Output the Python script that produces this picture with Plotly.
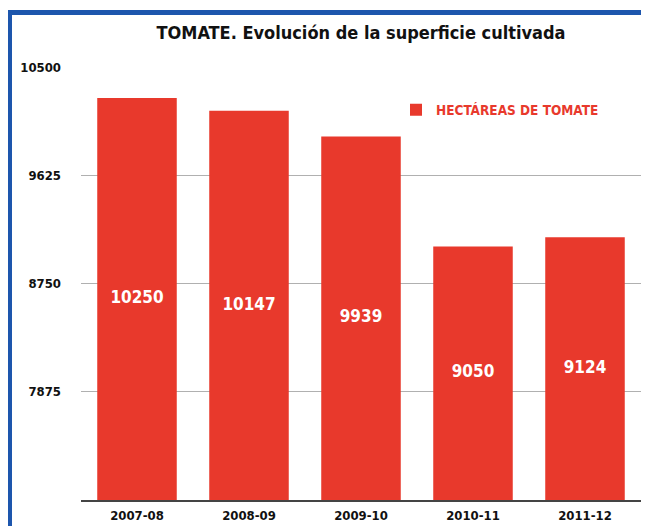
import plotly.graph_objects as go

categories = ["2007-08", "2008-09", "2009-10", "2010-11", "2011-12"]
hectareas = [10250, 10147, 9939, 9050, 9124]
tick_vals = [7875, 8750, 9625, 10500]
tick_text = ["7875", "8750", "9625", "10500"]
y_range = [7000, 10508]

# the page body has an 8px default margin: target pixel coords are shifted by OFF
OFF = 8
W, H = 649, 526
ML, MR, MT, MB = 81 - OFF, 8 + OFF, 66 - OFF, 26 + OFF
pw, ph = W - ML - MR, H - MT - MB

FONT = "Liberation Sans Narrow, DejaVu Sans Condensed, Roboto Condensed, Arial Narrow, DejaVu Sans, sans-serif"
RED = "#e8392c"
BLUE = "#1d56ad"

fig = go.Figure()
fig.add_trace(go.Bar(
    x=categories, y=hectareas, name="HECTÁREAS DE TOMATE",
    marker=dict(color=RED, line=dict(width=0)),
    showlegend=True,
))
# value labels centred in the visible part of each bar
mid = [(y_range[0] + v) / 2 for v in hectareas]
fig.add_trace(go.Scatter(
    x=categories, y=mid, mode="text",
    text=["<b>%d</b>" % v for v in hectareas],
    textposition="middle center",
    textfont=dict(family=FONT, size=17, color="white"),
    showlegend=False, hoverinfo="skip",
))

def px_x(p):
    return (p - OFF - ML) / pw

def px_y(p):
    return (H - MB - (p - OFF)) / ph

fig.update_layout(
    width=W, height=H,
    margin=dict(l=ML, r=MR, t=MT, b=MB, autoexpand=False),
    paper_bgcolor="white", plot_bgcolor="white",
    bargap=0.29,
    title=dict(text="<b>TOMATE. Evolución de la superficie cultivada</b>",
               x=0.5, xref="paper", xanchor="center",
               y=1 - (33 - OFF) / H, yref="container", yanchor="middle",
               font=dict(family=FONT, size=18, color="#111")),
    legend=dict(x=px_x(396), y=px_y(110), xanchor="left", yanchor="middle",
                bgcolor="rgba(0,0,0,0)",
                font=dict(family=FONT, size=13.5, color=RED, weight="bold"),
                itemsizing="constant"),
    xaxis=dict(type="category", automargin=False,
               showgrid=False, showline=True, linecolor="#444", linewidth=2,
               ticks="", tickfont=dict(family=FONT, size=13, color="#111", weight="bold"),
               ticklabelstandoff=2),
    yaxis=dict(range=y_range, tickvals=tick_vals, ticktext=tick_text,
               automargin=False,
               showgrid=True, gridcolor="#b0b0b0", gridwidth=1,
               zeroline=False, showline=False, ticks="",
               ticklabelstandoff=19,
               tickfont=dict(family=FONT, size=13, color="#111", weight="bold")),
    shapes=[dict(type="rect", xref="paper", yref="paper",
                 x0=px_x(9.5), x1=px_x(646), y0=px_y(540), y1=px_y(12.5),
                 line=dict(color=BLUE, width=5), fillcolor="rgba(0,0,0,0)",
                 layer="above")],
)

fig.write_html("out.html")
